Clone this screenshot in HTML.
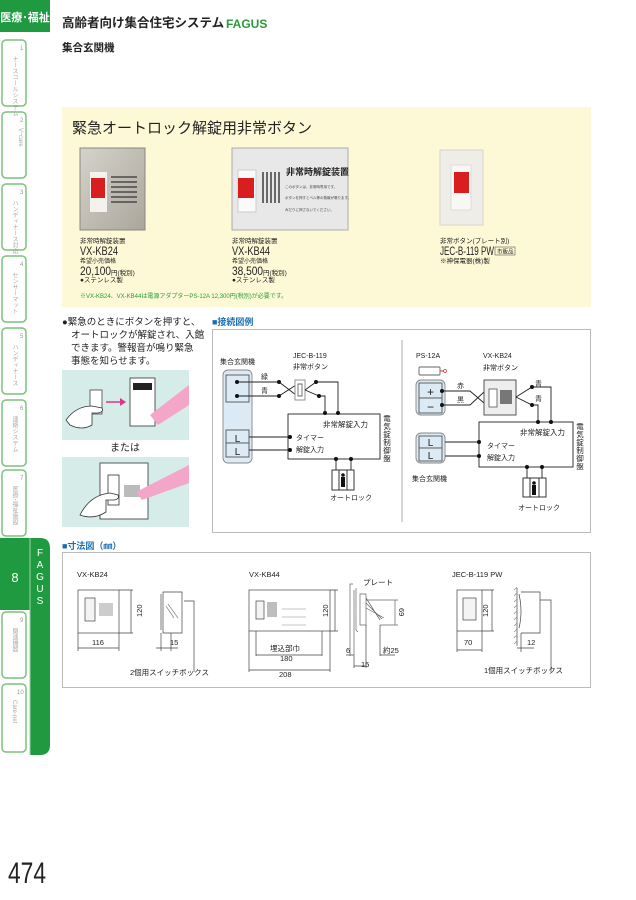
<!DOCTYPE html>
<html><head><meta charset="utf-8"><style>
html,body{margin:0;padding:0;background:#fff;}
svg{display:block;font-family:"Liberation Sans","Noto Sans CJK JP",sans-serif;}
.v{writing-mode:vertical-rl;}
</style></head><body>
<svg width="636" height="900" viewBox="0 0 636 900" xmlns="http://www.w3.org/2000/svg">
<defs><linearGradient id="ss" x1="0" y1="0" x2="1" y2="1"><stop offset="0" stop-color="#d6d3cb"/><stop offset="1" stop-color="#aaa69c"/></linearGradient></defs>
<!-- sidebar -->
<rect x="0" y="0" width="50" height="32" fill="#1f9a40"/>
<text x="25" y="21" font-size="11" font-weight="bold" fill="#fff" text-anchor="middle">医療･福祉</text>
<g fill="#fff" stroke="#7cc27f" stroke-width="1.5">
<rect x="2" y="40" width="24" height="66" rx="4"/>
<rect x="2" y="112" width="24" height="66" rx="4"/>
<rect x="2" y="184" width="24" height="66" rx="4"/>
<rect x="2" y="256" width="24" height="66" rx="4"/>
<rect x="2" y="328" width="24" height="66" rx="4"/>
<rect x="2" y="400" width="24" height="66" rx="4"/>
<rect x="2" y="470" width="24" height="66" rx="4"/>
<rect x="2" y="612" width="24" height="66" rx="4"/>
<rect x="2" y="684" width="24" height="68" rx="4"/>
</g>
<path d="M0 538 H40 Q50 538 50 548 V745 Q50 755 40 755 H30 V538 Z" fill="#1f9a40"/>
<rect x="0" y="538" width="30" height="72" fill="#1f9a40"/>
<line x1="30" y1="538" x2="30" y2="755" stroke="#9fd39f" stroke-width="1"/>
<text x="15" y="582" font-size="13" fill="#fff" text-anchor="middle">8</text>
<g font-size="10" fill="#fff" text-anchor="middle"><text x="40" y="556">F</text><text x="40" y="568">A</text><text x="40" y="580">G</text><text x="40" y="592">U</text><text x="40" y="604">S</text></g>
<g font-size="6" fill="#999">
<text x="20" y="50">1</text><text x="20" y="122">2</text><text x="20" y="194">3</text><text x="20" y="266">4</text><text x="20" y="338">5</text><text x="20" y="410">6</text><text x="20" y="480">7</text><text x="20" y="622">9</text><text x="17" y="694">10</text>
</g>
<g font-size="6" fill="#aaa" class="v">
<text x="14" y="56">ナースコールシステム</text><text x="20" y="128">Vｰcare</text><text x="14" y="200">ハンディナース対応</text>
<text x="14" y="272">センサーマット</text><text x="14" y="344">ハンディナース</text><text x="14" y="416">連絡システム</text>
<text x="14" y="486">医療･福祉施設</text><text x="14" y="628">関連機器</text><text x="14" y="700">Care-net</text>
</g>
<text x="8" y="883" font-size="30" fill="#222" textLength="38" lengthAdjust="spacingAndGlyphs">474</text>

<!-- header -->
<text x="62" y="27" font-size="12.5" font-weight="bold" fill="#222">高齢者向け集合住宅システム</text>
<text x="226" y="28" font-size="12" fill="#2a9a3a" font-weight="bold">FAGUS</text>
<text x="216" y="26" font-size="8" fill="#c8c020">⁘</text>
<text x="62" y="51" font-size="10.5" font-weight="bold" fill="#222">集合玄関機</text>

<!-- yellow product box -->
<rect x="62" y="107" width="529" height="200" fill="#fdf9d6"/>
<text x="72" y="133" font-size="15" fill="#222">緊急オートロック解錠用非常ボタン</text>
<!-- product1 -->
<rect x="80" y="148" width="65" height="82" fill="url(#ss)" stroke="#8a877e"/>
<rect x="90" y="172" width="17" height="40" fill="#f4f2ee"/>
<rect x="91" y="178" width="14" height="20" fill="#d81e1e"/>
<g stroke="#333" stroke-width="1.2"><line x1="111" y1="177" x2="137" y2="177"/><line x1="111" y1="182" x2="137" y2="182"/><line x1="111" y1="187" x2="137" y2="187"/><line x1="111" y1="192" x2="137" y2="192"/><line x1="111" y1="197" x2="137" y2="197"/><line x1="111" y1="202" x2="137" y2="202"/></g>
<!-- product2 -->
<rect x="232" y="148" width="116" height="82" fill="#e8e8e8" stroke="#aaa"/>
<rect x="238" y="170" width="18" height="42" fill="#fafafa" stroke="#ccc"/>
<rect x="238" y="178" width="16" height="20" fill="#d81e1e"/>
<g stroke="#222" stroke-width="1.3"><line x1="263" y1="172" x2="263" y2="203"/><line x1="267" y1="172" x2="267" y2="203"/><line x1="271" y1="172" x2="271" y2="203"/><line x1="275" y1="172" x2="275" y2="203"/><line x1="279" y1="172" x2="279" y2="203"/></g>
<text x="286" y="175" font-size="9" font-weight="bold" fill="#222">非常時解錠装置</text>
<g font-size="3.5" fill="#444"><text x="285" y="188">このボタンは、非常時専用です。</text><text x="285" y="199">ボタンを押すとベル等の警報が鳴ります。</text><text x="285" y="211">みだりに押さないでください。</text></g>
<!-- product3 -->
<rect x="440" y="150" width="43" height="75" fill="#efede7" stroke="#d8d5cc"/>
<rect x="451" y="165" width="20" height="45" fill="#f8f7f3" stroke="#ddd"/>
<rect x="454" y="172" width="15" height="21" fill="#d81e1e"/>
<!-- labels -->
<g fill="#222">
<text x="80" y="243" font-size="6.5">非常時解錠装置</text>
<text x="80" y="255" font-size="12" textLength="38" lengthAdjust="spacingAndGlyphs">VX-KB24</text>
<text x="80" y="263" font-size="6">希望小売価格</text>
<text x="80" y="275" font-size="12" textLength="31" lengthAdjust="spacingAndGlyphs">20,100</text><text x="111" y="275" font-size="6.5">円(税別)</text>
<text x="80" y="282" font-size="6.5">●ステンレス製</text>
<text x="232" y="243" font-size="6.5">非常時解錠装置</text>
<text x="232" y="255" font-size="12" textLength="38" lengthAdjust="spacingAndGlyphs">VX-KB44</text>
<text x="232" y="263" font-size="6">希望小売価格</text>
<text x="232" y="275" font-size="12" textLength="31" lengthAdjust="spacingAndGlyphs">38,500</text><text x="263" y="275" font-size="6.5">円(税別)</text>
<text x="232" y="282" font-size="6.5">●ステンレス製</text>
<text x="440" y="243" font-size="6.5">非常ボタン(プレート別)</text>
<text x="440" y="255" font-size="12" textLength="54" lengthAdjust="spacingAndGlyphs">JEC-B-119 PW</text>
<rect x="495" y="247" width="20" height="8" fill="none" stroke="#555" stroke-width=".6"/><text x="497" y="253.5" font-size="5.5">市販品</text>
<text x="440" y="263" font-size="6.5">※神保電器(株)製</text>
</g>
<text x="80" y="298" font-size="6" fill="#2a9a3a">※VX-KB24、VX-KB44は電源アダプターPS-12A 12,300円(税別)が必要です。</text>

<!-- left text -->
<g font-size="9.5" fill="#222">
<text x="62" y="325">●緊急のときにボタンを押すと、</text>
<text x="71" y="338">オートロックが解錠され、入館</text>
<text x="71" y="351">できます。警報音が鳴り緊急</text>
<text x="71" y="364">事態を知らせます。</text>
</g>
<rect x="62" y="370" width="127" height="70" fill="#d5ece9"/>
<rect x="90" y="390" width="12" height="24" fill="#fff" stroke="#444" stroke-width=".8"/>
<path d="M66 420 q10 -14 26 -14 l10 2 q2 4 -4 5 l-6 0 l0 12 q-10 6 -22 0 z" fill="#fff" stroke="#333" stroke-width=".8"/>
<line x1="106" y1="402" x2="120" y2="402" stroke="#e0338a" stroke-width="1.5"/><path d="M120 398 l6 4 -6 4z" fill="#e0338a"/>
<rect x="130" y="378" width="25" height="48" fill="#fff" stroke="#333" stroke-width=".8"/>
<rect x="133" y="383" width="19" height="7" fill="#222"/>
<path d="M150 415 L189 385 L189 405 L158 425 Z" fill="#f3a6c8"/>
<text x="125" y="451" font-size="10" fill="#222" text-anchor="middle">または</text>
<rect x="62" y="457" width="127" height="70" fill="#d5ece9"/>
<rect x="100" y="463" width="48" height="56" fill="#fff" stroke="#333" stroke-width=".8"/>
<rect x="108" y="475" width="11" height="30" fill="#fff" stroke="#333" stroke-width=".8"/>
<rect x="124" y="485" width="16" height="12" fill="#bbb"/>
<path d="M136 492 L189 465 L189 483 L142 500 Z" fill="#f3a6c8"/>
<path d="M80 515 q10 -20 30 -22 l8 2 q2 4 -4 5 l-8 0 l0 12 q-12 8 -26 3 z" fill="#fff" stroke="#333" stroke-width=".8"/>

<!-- connection diagram -->
<text x="212" y="325" font-size="9" font-weight="bold" fill="#1a6fb0">■接続図例</text>
<rect x="212.5" y="329.5" width="378" height="203" fill="#fff" stroke="#bbb"/>
<line x1="402" y1="340" x2="402" y2="522" stroke="#999" stroke-width=".8"/>
<g stroke="#222" stroke-width=".9" fill="none">
<rect x="223" y="370" width="29" height="93" rx="5" fill="#dbeaf4" stroke="#888"/>
<rect x="226" y="375" width="23" height="27" fill="#dbeaf4" stroke="#555"/>
<rect x="226" y="430" width="23" height="13" fill="#dbeaf4" stroke="#555"/>
<rect x="226" y="443" width="23" height="14" fill="#dbeaf4" stroke="#555"/>
<path d="M237 382 H279 L296 395 M237 396 H279 L296 385"/>
<rect x="295" y="380" width="10" height="20" fill="#fff" stroke="#888"/>
<path d="M298 384 h4 v12 h-4z" stroke="#666"/>
<path d="M305 390 L316 382 H338 V413 M305 390 L319 396 H325 V413"/>
<rect x="288" y="414" width="92" height="45" fill="#fff"/>
<path d="M249 437 H290 M249 450 H290"/>
<path d="M336 459 V470 M351 459 V470"/>
<rect x="332" y="470" width="22" height="20" fill="#fff"/>
<path d="M339 470 v20 M347 470 v20"/>
<rect x="416" y="380" width="29" height="35" rx="5" fill="#dbeaf4" stroke="#888"/>
<rect x="419" y="383" width="23" height="15" fill="#dbeaf4" stroke="#555"/>
<rect x="419" y="398" width="23" height="15" fill="#dbeaf4" stroke="#555"/>
<rect x="419" y="367" width="21" height="8" rx="1" fill="#fff" stroke="#666"/>
<path d="M442 391 H470 L484 403 M442 405 H470 L484 392"/>
<rect x="484" y="380" width="32" height="35" fill="#eee" stroke="#444"/>
<rect x="489" y="389" width="8" height="18" fill="#fff" stroke="#666"/>
<rect x="500" y="390" width="12" height="14" fill="#777" stroke="none"/>
<path d="M516 397 L532 387 H551 V422 M516 397 L532 405 H538 V422"/>
<rect x="416" y="433" width="29" height="30" rx="5" fill="#dbeaf4" stroke="#888"/>
<rect x="419" y="436" width="23" height="12" fill="#dbeaf4" stroke="#555"/>
<rect x="419" y="448" width="23" height="13" fill="#dbeaf4" stroke="#555"/>
<rect x="479" y="422" width="94" height="45" fill="#fff"/>
<path d="M445 442 H479 M445 456 H479"/>
<path d="M527 467 V478 M542 467 V478"/>
<rect x="523" y="478" width="23" height="19" fill="#fff"/>
<path d="M530 478 v19 M539 478 v19"/>
</g>
<path d="M440 371 h4" stroke="#d33" stroke-width="1"/><circle cx="445" cy="371" r="1.5" fill="none" stroke="#d33" stroke-width=".7"/>
<g fill="#111">
<circle cx="237" cy="382" r="2"/><circle cx="237" cy="396" r="2"/><circle cx="279" cy="382" r="2"/><circle cx="279" cy="396" r="2"/>
<circle cx="316" cy="382" r="2"/><circle cx="319" cy="396" r="2"/><circle cx="325" cy="413" r="2"/><circle cx="338" cy="413" r="2"/>
<circle cx="290" cy="437" r="2"/><circle cx="290" cy="450" r="2"/><circle cx="336" cy="459" r="2"/><circle cx="351" cy="459" r="2"/>
<circle cx="442" cy="391" r="2"/><circle cx="442" cy="405" r="2"/><circle cx="532" cy="387" r="2"/><circle cx="532" cy="405" r="2"/>
<circle cx="538" cy="422" r="2"/><circle cx="551" cy="422" r="2"/><circle cx="479" cy="442" r="2"/><circle cx="479" cy="456" r="2"/>
<circle cx="527" cy="467" r="2"/><circle cx="542" cy="467" r="2"/>
<rect x="341" y="477" width="4" height="10"/><circle cx="343" cy="475" r="1.8"/>
<rect x="532" y="485" width="4" height="10"/><circle cx="534" cy="483" r="1.8"/>
</g>
<g font-size="7" fill="#222">
<text x="220" y="364">集合玄関機</text>
<text x="293" y="358">JEC-B-119</text><text x="293" y="369">非常ボタン</text>
<text x="261" y="379">緑</text><text x="261" y="393">青</text>
<text x="237.5" y="442" font-size="10" text-anchor="middle">L</text><text x="237.5" y="455" font-size="10" text-anchor="middle">L</text>
<text x="323" y="427" font-size="7.5">非常解錠入力</text>
<text x="296" y="440">タイマー</text><text x="296" y="452">解錠入力</text>
<text x="330" y="500">オートロック</text>
<text x="416" y="358">PS-12A</text>
<text x="483" y="358">VX-KB24</text><text x="483" y="370">非常ボタン</text>
<text x="457" y="388">赤</text><text x="457" y="402">黒</text>
<text x="535" y="386">青</text><text x="535" y="401">青</text>
<text x="430.5" y="396" font-size="12" text-anchor="middle">+</text><text x="430.5" y="411" font-size="12" text-anchor="middle">−</text>
<text x="430.5" y="446" font-size="10" text-anchor="middle">L</text><text x="430.5" y="459" font-size="10" text-anchor="middle">L</text>
<text x="520" y="435" font-size="7.5">非常解錠入力</text>
<text x="487" y="448">タイマー</text><text x="487" y="460">解錠入力</text>
<text x="412" y="481">集合玄関機</text>
<text x="518" y="510">オートロック</text>
<text font-size="7.5" text-anchor="middle"><tspan x="387" y="421">電</tspan><tspan x="387" y="429">気</tspan><tspan x="387" y="437">錠</tspan><tspan x="387" y="445">制</tspan><tspan x="387" y="453">御</tspan><tspan x="387" y="461">盤</tspan></text>
<text font-size="7.5" text-anchor="middle"><tspan x="580" y="429">電</tspan><tspan x="580" y="437">気</tspan><tspan x="580" y="445">錠</tspan><tspan x="580" y="453">制</tspan><tspan x="580" y="461">御</tspan><tspan x="580" y="469">盤</tspan></text>
</g>

<!-- dimension diagram -->
<text x="62" y="549" font-size="9" font-weight="bold" fill="#1a6fb0">■寸法図（㎜）</text>
<rect x="62.5" y="552.5" width="528" height="135" fill="#fff" stroke="#bbb"/>
<g stroke="#444" stroke-width=".7" fill="none">
<rect x="78" y="590" width="41" height="43"/>
<rect x="85" y="598" width="10" height="23" fill="#f4f4f4"/>
<rect x="99" y="603" width="14" height="13" fill="#ccc" stroke="none"/>
<path d="M119 590 H133 M119 633 H133 M131 590 V633 M78 633 V651 M119 633 V651 M78 648 H119"/>
<path d="M161 594 V630 M163 592 V633 H182 V592 Z M184 601 H194 V672"/>
<path d="M166 606 l8 12 M168 604 l10 14" stroke="#888"/>
<path d="M161 633 V651 M171 633 V651 M156 648 H178"/>
<rect x="249" y="590" width="81" height="41"/>
<rect x="256" y="601" width="8" height="18" fill="#f4f4f4"/>
<path d="M268 602 v15 M270 602 v15 M272 602 v15 M274 602 v15 M276 602 v15"/>
<path d="M282 609 h24 M282 617 h24 M282 625 h24" stroke="#888" stroke-width=".5"/>
<path d="M330 590 H338 M330 631 H338 M335 590 V631 M256 631 V656 M322 631 V656 M256 655 H322 M249 631 V672 M330 631 V672 M249 670 H330"/>
<path d="M353 584 H350 V656 M354 590 V656 M356 588 V630 L358 632 M360 594 V625 H366 V594 Z M366 598 l14 22 M366 603 l16 16 M366 608 l18 10 M366 600 H398 M380 625 H398 M395 600 V625" stroke="#666"/>
<path d="M346 655 H354 M354 656 V668 M366 625 V668 M354 666 H366 M380 625 V656 M380 655 H395"/>
<rect x="457" y="590" width="25" height="41"/>
<rect x="463" y="598" width="13" height="22" fill="#f4f4f4"/>
<path d="M482 590 H494 M482 631 H494 M492 590 V631 M457 631 V652 M482 631 V652 M457 650 H482"/>
<path d="M517 588 V646 M519 594 q4 18 0 34 M521 592 H540 V633 H521 M540 600 H551 V672"/>
<path d="M514 590 l3 -3 M514 596 l3 -3 M514 602 l3 -3 M514 608 l3 -3 M514 614 l3 -3 M514 620 l3 -3 M514 626 l3 -3 M514 632 l3 -3 M514 638 l3 -3 M514 644 l3 -3" stroke="#888"/>
<path d="M517 648 H534 M521 633 V652"/>
</g>
<g font-size="7.5" fill="#222">
<text x="77" y="577">VX-KB24</text>
<text x="249" y="577">VX-KB44</text>
<text x="452" y="577">JEC-B-119 PW</text>
<text x="92" y="645">116</text><text x="170" y="645">15</text>
<text transform="translate(142,617) rotate(-90)">120</text>
<text x="130" y="675">2個用スイッチボックス</text>
<text x="270" y="651">埋込部巾</text><text x="280" y="661">180</text><text x="279" y="677">208</text>
<text transform="translate(328,617) rotate(-90)">120</text>
<text x="363" y="585">プレート</text>
<text transform="translate(399,608) rotate(90)">69</text>
<text x="346" y="653">6</text><text x="361" y="667">15</text><text x="383" y="653">約25</text>
<text x="464" y="645">70</text><text x="527" y="645">12</text>
<text transform="translate(488,617) rotate(-90)">120</text>
<text x="484" y="673">1個用スイッチボックス</text>
</g>
</svg>
</body></html>
